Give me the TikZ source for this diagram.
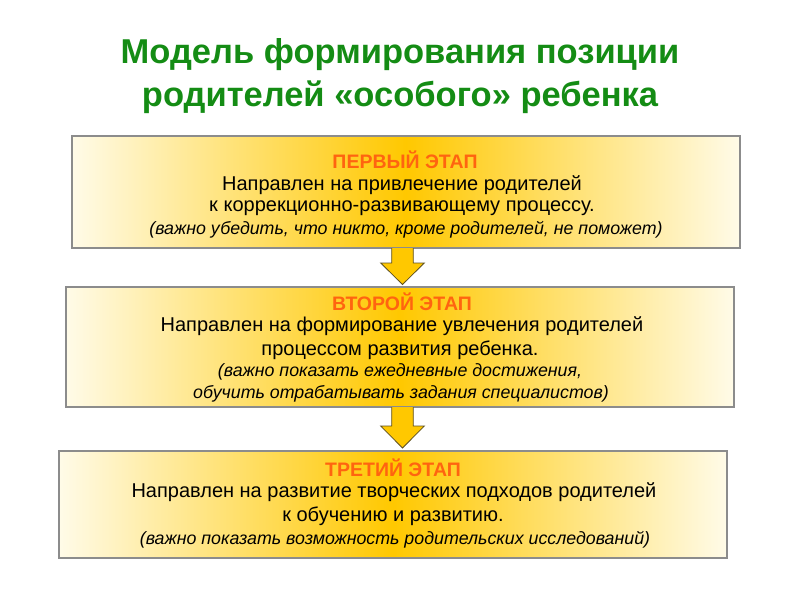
\documentclass[tikz,border=0pt]{standalone}
\usepackage{fontspec}
\setmainfont{Liberation Sans}
\definecolor{titlegreen}{HTML}{148C14}
\definecolor{headorange}{HTML}{FF6410}
\definecolor{gold}{HTML}{FFC800}
\definecolor{pale}{HTML}{FFFBE8}
\definecolor{boxborder}{HTML}{8C8C8C}
\definecolor{arrowline}{HTML}{5E5020}
\begin{document}
\begin{tikzpicture}[x=1pt,y=-1pt,
  stagebox/.style={draw=boxborder,line width=1.6pt,left color=pale,right color=pale,middle color=gold},
  titletext/.style={text=titlegreen,font=\fontsize{34.5}{42}\selectfont\bfseries,align=center},
  headtext/.style={text=headorange,font=\fontsize{19.5}{22}\selectfont\bfseries},
  bodytext/.style={font=\fontsize{20}{22}\selectfont},
  notetext/.style={font=\fontsize{17.8}{20}\selectfont\itshape},
  downarrow/.style={draw=arrowline,line width=0.8pt,fill=gold,line join=miter}]
\useasboundingbox (0,0) rectangle (800,600);
\node[titletext] (t1) at (400,55) {Модель формирования позиции};
\node[titletext] (t2) at (400,97) {родителей «особого» ребенка};
% boxes
\node[stagebox,minimum width=668pt,minimum height=112pt,inner sep=0pt] (b1) at (405.75,192) {};
\node[stagebox,minimum width=668pt,minimum height=120pt,inner sep=0pt] (b2) at (400,347) {};
\node[stagebox,minimum width=668pt,minimum height=107pt,inner sep=0pt] (b3) at (393,504.5) {};
% box 1 text
\node[headtext] (h1) at (405,160) {ПЕРВЫЙ ЭТАП};
\node[bodytext] (l11) at (402,185) {Направлен на привлечение родителей};
\node[bodytext] (l12) at (402,208) {к коррекционно-развивающему процессу.};
\node[notetext] (n1) at (406,230) {(важно убедить, что никто, кроме родителей, не поможет)};
% box 2 text
\node[headtext] (h2) at (402,302) {ВТОРОЙ ЭТАП};
\node[bodytext] (l21) at (402,326) {Направлен на формирование увлечения родителей};
\node[bodytext] (l22) at (400,350) {процессом развития ребенка.};
\node[notetext] (n21) at (400,372) {(важно показать ежедневные достижения,};
\node[notetext] (n22) at (401,394) {обучить отрабатывать задания специалистов)};
% box 3 text
\node[headtext] (h3) at (393,468) {ТРЕТИЙ ЭТАП};
\node[bodytext] (l31) at (394,492) {Направлен на развитие творческих подходов родителей};
\node[bodytext] (l32) at (393,516) {к обучению и развитию.};
\node[notetext] (n3) at (395,540) {(важно показать возможность родительских исследований)};
% arrows
\coordinate (a1) at (402.5,248);
\coordinate (a2) at (402.5,407);
\draw[downarrow] ([xshift=-10.8pt]a1) -- ++(0,15) -- ++(-11,0) -- ++(21.8,21.5) -- ++(21.8,-21.5) -- ++(-11,0) -- ++(0,-15);
\draw[downarrow] ([xshift=-10.8pt]a2) -- ++(0,19) -- ++(-11,0) -- ++(21.8,22) -- ++(21.8,-22) -- ++(-11,0) -- ++(0,-19);
\end{tikzpicture}
\end{document}
